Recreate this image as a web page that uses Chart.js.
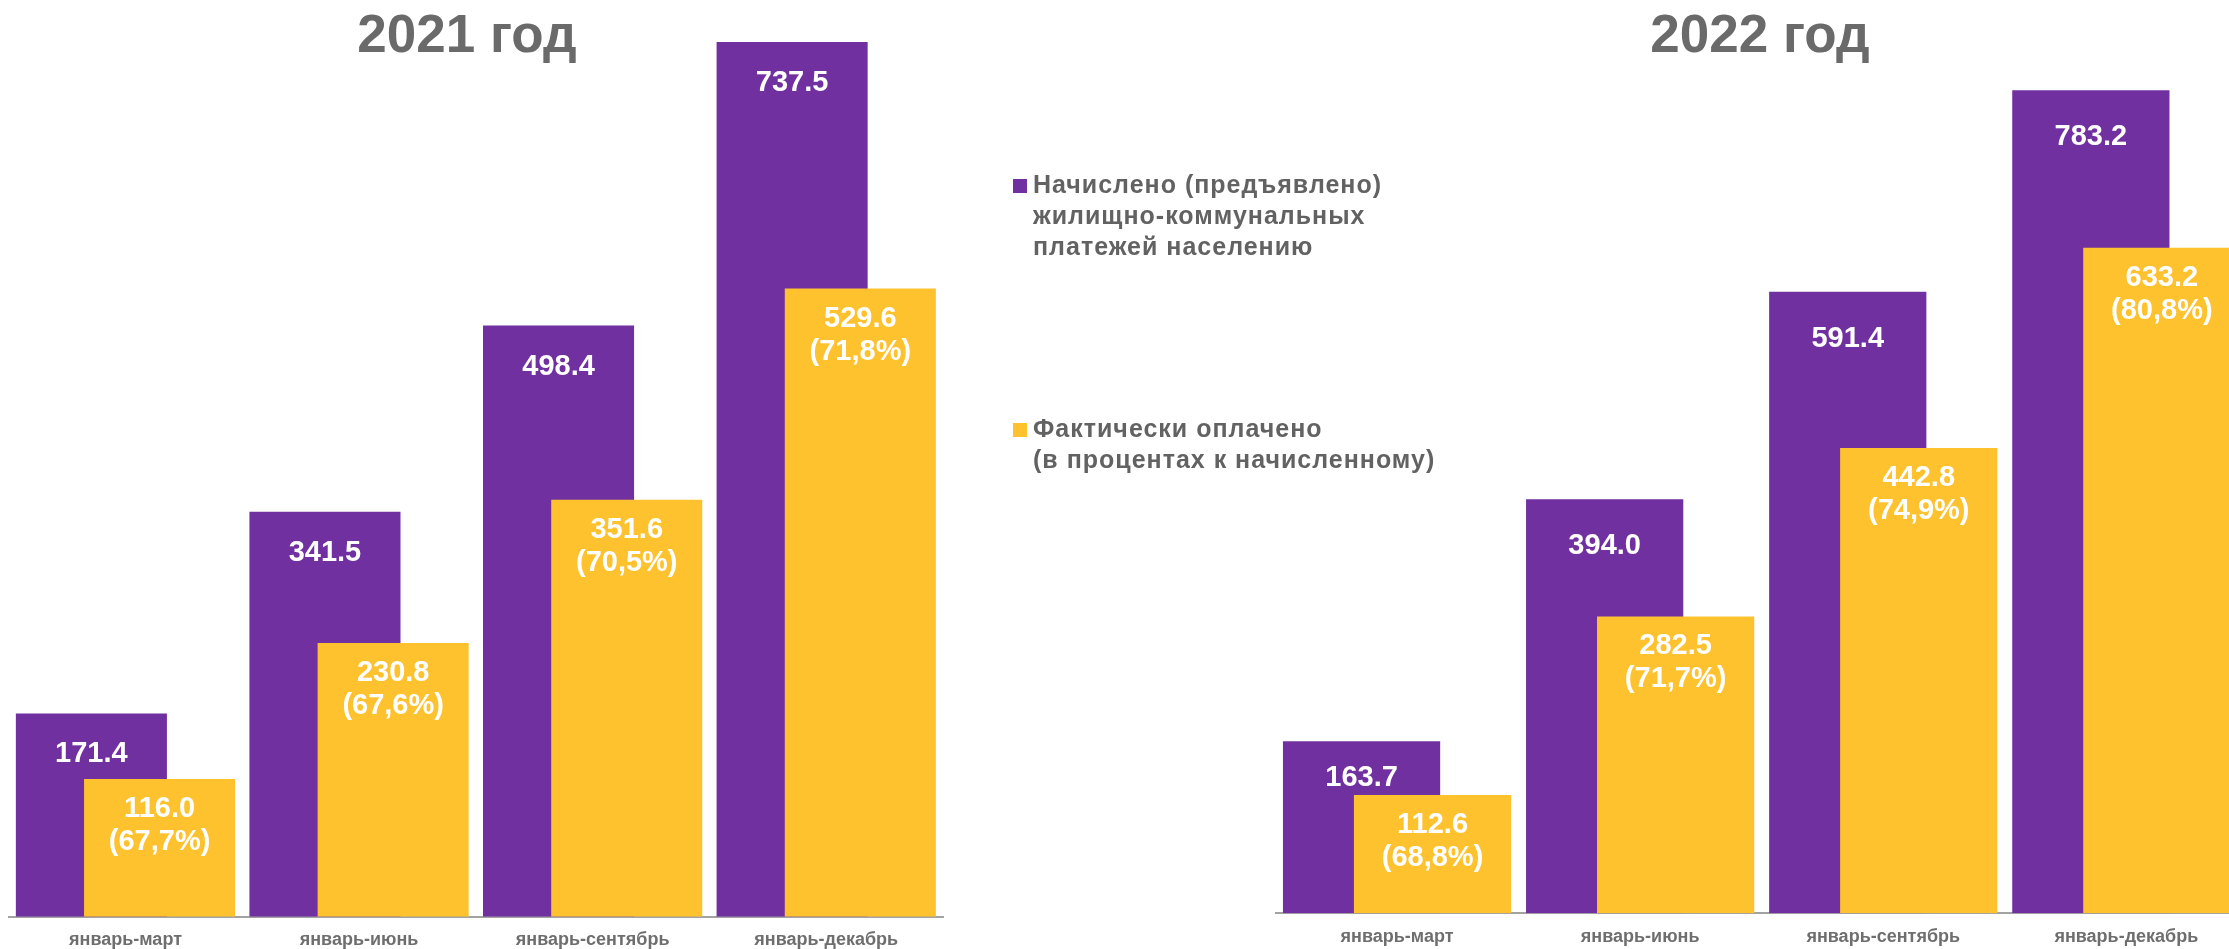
<!DOCTYPE html>
<html><head><meta charset="utf-8">
<script src="https://cdn.jsdelivr.net/npm/chart.js@4.4.1/dist/chart.umd.min.js"></script>
<style>
html,body{margin:0;padding:0;width:2229px;height:949px;overflow:hidden;background:#fff;}
#wrap{position:relative;width:2229px;height:949px;overflow:hidden;}
canvas{position:absolute;top:0;}
.title{position:absolute;top:7px;font:bold 53px "Liberation Sans",Arial,sans-serif;color:#6a6a6a;line-height:53px;white-space:nowrap;transform:translateX(-50%);}
.leg{position:absolute;left:1033px;font:bold 25px "Liberation Sans",Arial,sans-serif;color:#626262;line-height:31px;letter-spacing:1px;white-space:nowrap;}
.sw{position:absolute;left:1013px;width:14px;height:14px;}
</style></head><body>
<div id="wrap">
<canvas id="c1" width="960" height="949" style="left:0"></canvas>
<canvas id="c2" width="1000" height="949" style="left:1250px"></canvas>
</div>
<script>
// ---- data ----
const categories = ['январь-март', 'январь-июнь', 'январь-сентябрь', 'январь-декабрь'];
const titles = ['2021 год', '2022 год'];
const seriesNames = [
  ['Начислено (предъявлено)', 'жилищно-коммунальных', 'платежей населению'],
  ['Фактически оплачено', '(в процентах к начисленному)']
];
const accrued2021 = [171.4, 341.5, 498.4, 737.5];
const paid2021 = [116.0, 230.8, 351.6, 529.6];
const paidPct2021 = [67.7, 67.6, 70.5, 71.8];
const accrued2022 = [163.7, 394.0, 591.4, 783.2];
const paid2022 = [112.6, 282.5, 442.8, 633.2];
const paidPct2022 = [68.8, 71.7, 74.9, 80.8];

const PURPLE = '#7030A0';
const YELLOW = '#FEC22F';
const FONT = '"Liberation Sans", Arial, sans-serif';

const wrap = document.getElementById('wrap');
// titles
[[titles[0], 467], [titles[1], 1760]].forEach(([t, x]) => {
  const d = document.createElement('div');
  d.className = 'title'; d.style.left = x + 'px'; d.textContent = t;
  wrap.appendChild(d);
});
// legend
[[seriesNames[0], PURPLE, 168.5, 179], [seriesNames[1], YELLOW, 413.1, 423]].forEach(([lines, col, top, swTop]) => {
  const sw = document.createElement('div');
  sw.className = 'sw'; sw.style.top = swTop + 'px'; sw.style.background = col;
  wrap.appendChild(sw);
  const d = document.createElement('div');
  d.className = 'leg'; d.style.top = top + 'px';
  lines.forEach((l, i) => { if (i) d.appendChild(document.createElement('br')); d.appendChild(document.createTextNode(l)); });
  wrap.appendChild(d);
});

function drawLabels(chart, o) {
  const ctx = chart.ctx;
  ctx.save();
  ctx.fillStyle = '#ffffff';
  ctx.font = 'bold 29px ' + FONT;
  ctx.textAlign = 'center';
  ctx.textBaseline = 'middle';
  const ds = chart.data.datasets;
  const paidBars = chart.getDatasetMeta(1).data;
  chart.getDatasetMeta(0).data.forEach((bar, i) => {
    // keep the label above the overlapping yellow bar
    const y = Math.min(bar.y + o.purpleOffset, paidBars[i].y - 17);
    ctx.fillText(ds[0].data[i].toFixed(1), bar.x, y);
  });
  paidBars.forEach((bar, i) => {
    ctx.fillText(ds[1].data[i].toFixed(1), bar.x, bar.y + 30);
    ctx.fillText('(' + o.pct[i].toFixed(1).replace('.', ',') + '%)', bar.x, bar.y + 63);
  });
  ctx.restore();
}

// draw purple first, yellow over it (overlapping bars), then the value labels
const labelPlugin = {
  id: 'vals',
  beforeDatasetsDraw(chart, args, o) {
    [0, 1].forEach(i => chart._drawDataset(chart.getDatasetMeta(i)));
    drawLabels(chart, o);
    return false;
  }
};

function makeChart(id, accrued, paid, pct, yMax, pxPerUnit, baseline, padL, padR, purpleOffset) {
  const canvas = document.getElementById(id);
  const H = canvas.height;
  const topPad = baseline - yMax * pxPerUnit;
  return new Chart(canvas, {
    type: 'bar',
    data: {
      labels: categories,
      datasets: [
        { label: seriesNames[0].join(' '), data: accrued, backgroundColor: PURPLE, borderWidth: 0 },
        { label: seriesNames[1].join(' '), data: paid, backgroundColor: YELLOW, borderWidth: 0 }
      ]
    },
    options: {
      responsive: false,
      animation: false,
      devicePixelRatio: 1,
      layout: { padding: { left: padL, right: padR, top: topPad, bottom: 0 } },
      datasets: { bar: { categoryPercentage: 0.584, barPercentage: 2.215 } },
      plugins: {
        legend: { display: false },
        tooltip: { enabled: false },
        title: { display: false },
        vals: { purpleOffset: purpleOffset, pct: pct }
      },
      scales: {
        x: {
          type: 'category',
          grid: { display: false, drawTicks: false },
          border: { display: true, color: '#a3a3a3', width: 2 },
          ticks: { color: '#6e6e6e', padding: 12.5, maxRotation: 0, autoSkip: false,
                   font: { family: FONT, size: 18, weight: 'bold' } },
          afterFit: (s) => { s.height = H - baseline; }
        },
        y: { display: false, min: 0, max: yMax }
      }
    },
    plugins: [labelPlugin]
  });
}

makeChart('c1', accrued2021, paid2021, paidPct2021, 770, 1.186, 916.7, 8.7, 17, 41);
makeChart('c2', accrued2022, paid2022, paidPct2022, 860, 1.051, 913.3, 25.5, 2.1, 47);
</script>
</body></html>
